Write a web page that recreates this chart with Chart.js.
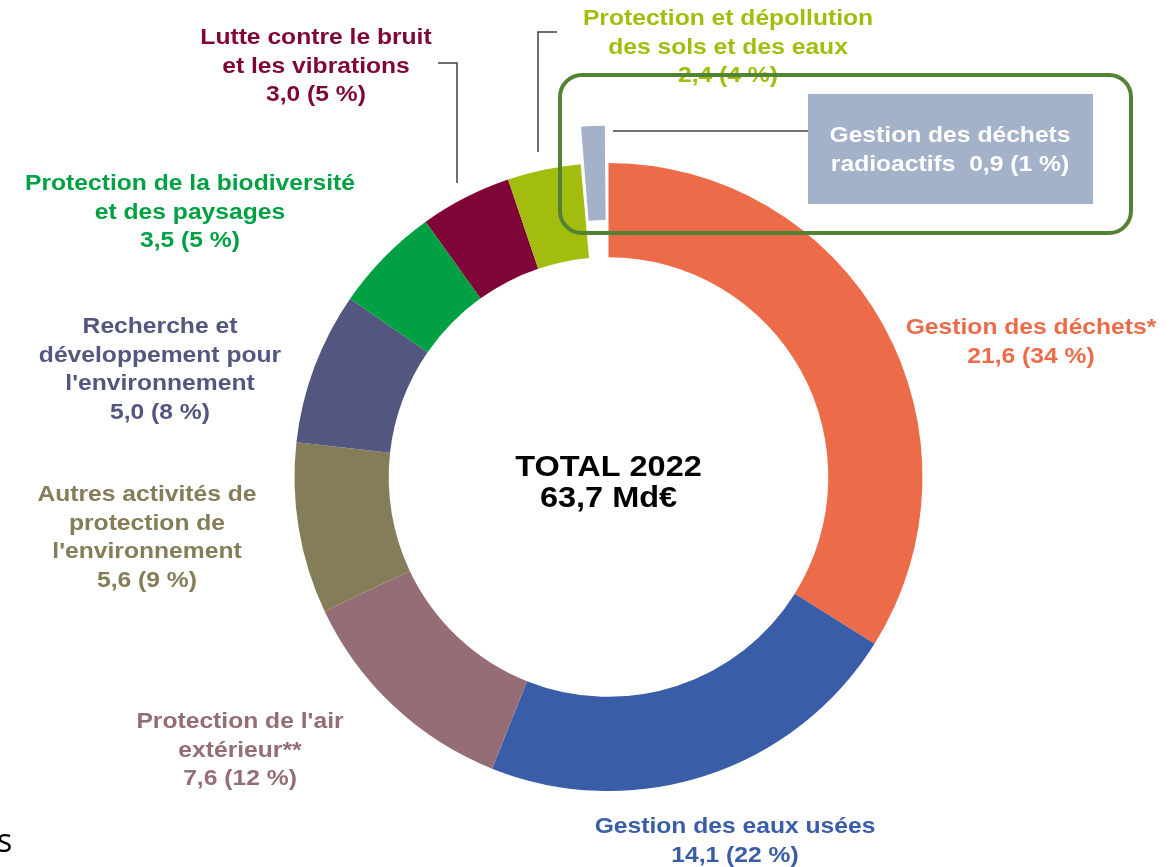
<!DOCTYPE html>
<html lang="fr">
<head>
<meta charset="utf-8">
<title>Dépense de protection de l'environnement 2022</title>
<script src="https://cdn.jsdelivr.net/npm/chart.js@4.4.1/dist/chart.umd.min.js"></script>
<style>
  html, body { margin:0; padding:0; background:#ffffff; }
  #cadre { width:1170px; height:867px; position:relative; }
</style>
</head>
<body>
<div id="cadre"><canvas id="graphique" width="1170" height="867"></canvas></div>
<script>
// données (Md€), dans l'ordre horaire depuis midi
const domaines = [
  "Gestion des déchets*",
  "Gestion des eaux usées",
  "Protection de l'air extérieur**",
  "Autres activités de protection de l'environnement",
  "Recherche et développement pour l'environnement",
  "Protection de la biodiversité et des paysages",
  "Lutte contre le bruit et les vibrations",
  "Protection et dépollution des sols et des eaux",
  "Gestion des déchets radioactifs"
];
const montants = [21.6, 14.1, 7.6, 5.6, 5.0, 3.5, 3.0, 2.4, 0.9];
const annee = 2022;

// libellés coupés comme sur la figure
const lignesLibelles = [
  ["Gestion des déchets*"],
  ["Gestion des eaux usées"],
  ["Protection de l'air", "extérieur**"],
  ["Autres activités de", "protection de", "l'environnement"],
  ["Recherche et", "développement pour", "l'environnement"],
  ["Protection de la biodiversité", "et des paysages"],
  ["Lutte contre le bruit", "et les vibrations"],
  ["Protection et dépollution", "des sols et des eaux"],
  ["Gestion des déchets", "radioactifs "]
];

const couleurs = ["#ec6b48", "#3a5da8", "#946d75", "#857c58", "#53577f", "#00a043", "#7f0538", "#a3bd0f", "#a3b1c9"];
const decalages = [0, 0, 0, 0, 0, 0, 0, 0, 78];

// position (centre x, 1re ligne y) de chaque libellé
const posLibelles = [[1031, 328], [735, 827], [240, 722], [147, 495], [160, 327], [190, 184], [316, 38], [728, 19], [950, 136]];

const POLICE = "'Liberation Sans', Arial, sans-serif";
const total = montants.reduce((s, v) => s + v, 0);

function fmt(v) { return v.toFixed(1).replace(".", ","); }
function valeurTexte(v) { return fmt(v) + " (" + Math.round(v / total * 100) + " %)"; }

function texte(ctx, txt, x, y, taille, couleur, etire) {
  ctx.save();
  ctx.translate(x, y);
  ctx.scale(etire, 1);
  ctx.font = "bold " + taille + "px " + POLICE;
  ctx.fillStyle = couleur;
  ctx.textAlign = "center";
  ctx.textBaseline = "middle";
  ctx.fillText(txt, 0, 0);
  ctx.restore();
}

function trait(ctx, pts) {
  ctx.beginPath();
  ctx.moveTo(pts[0][0], pts[0][1]);
  for (let i = 1; i < pts.length; i++) ctx.lineTo(pts[i][0], pts[i][1]);
  ctx.stroke();
}

const habillage = {
  id: "habillage",
  afterDraw(chart) {
    const ctx = chart.ctx;
    const arc = chart.getDatasetMeta(0).data[0];
    ctx.save();

    // total au centre
    texte(ctx, "TOTAL " + annee, arc.x, arc.y - 9, 29, "#000000", 1.12);
    texte(ctx, fmt(total) + " Md€", arc.x, arc.y + 22, 29, "#000000", 1.12);

    // traits de rappel
    ctx.strokeStyle = "#404040";
    ctx.lineWidth = 1.5;
    trait(ctx, [[438, 63], [457, 63], [457, 183]]);
    trait(ctx, [[557, 32], [538, 32], [538, 152]]);
    trait(ctx, [[613, 131], [808, 131]]);

    // libellés
    const interligne = 28.5;
    for (let i = 0; i < 8; i++) {
      const [x, y] = posLibelles[i];
      const lignes = lignesLibelles[i].concat([valeurTexte(montants[i])]);
      lignes.forEach((l, k) => texte(ctx, l, x, y + k * interligne, 22, couleurs[i], 1.12));
    }

    // encadré déchets radioactifs
    const r = 8;
    ctx.fillStyle = couleurs[r];
    ctx.fillRect(808, 94, 285, 110);
    const [bx, by] = posLibelles[r];
    texte(ctx, lignesLibelles[r][0], bx, by, 22, "#ffffff", 1.12);
    texte(ctx, lignesLibelles[r][1] + " " + valeurTexte(montants[r]), bx, by + interligne, 22, "#ffffff", 1.12);

    // cadre vert de mise en évidence
    ctx.strokeStyle = "#548235";
    ctx.lineWidth = 4;
    ctx.beginPath();
    ctx.roundRect(560, 75, 571, 158, 22);
    ctx.stroke();

    // reste de texte coupé en bas à gauche
    ctx.font = "32px 'Open Sans', sans-serif";
    ctx.fillStyle = "#000000";
    ctx.textAlign = "left";
    ctx.textBaseline = "middle";
    ctx.fillText("s", -3, 843);

    ctx.restore();
  }
};

new Chart(document.getElementById("graphique"), {
  type: "doughnut",
  data: {
    labels: domaines,
    datasets: [{
      data: montants,
      backgroundColor: couleurs,
      borderWidth: 0,
      offset: decalages
    }]
  },
  options: {
    responsive: false,
    animation: false,
    events: [],
    radius: 314,
    cutout: "70%",
    layout: { padding: { left: 47, right: 0, top: 87, bottom: 0 } },
    plugins: {
      legend: { display: false },
      tooltip: { enabled: false }
    }
  },
  plugins: [habillage]
});
</script>
</body>
</html>
